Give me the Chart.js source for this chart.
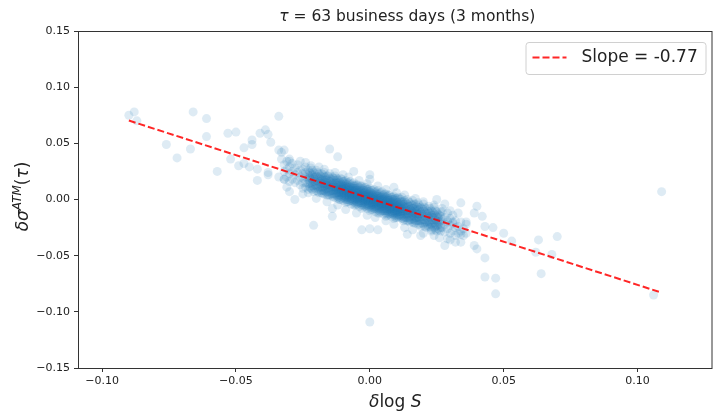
<!DOCTYPE html>
<html>
<head>
<meta charset="utf-8">
<script src="https://cdn.jsdelivr.net/npm/chart.js@4.4.0/dist/chart.umd.min.js"></script>
<style>
  html, body { margin: 0; padding: 0; background: #fff; }
</style>
</head>
<body>
<canvas id="chart" width="717" height="415"></canvas>
<script>
// values below are in units of 1e-3 (thousandths)
const MILLI = 0.001;

// scattered points away from the dense band: [dlogS, dsigma]
const outliers = [
  [-90, 75], [-88, 78], [-87, 70], [-76, 49], [-72, 37], [-67, 45], [-66, 78], [-61, 72],
  [-61, 56], [-57, 25], [-53, 59], [-52, 36], [-50, 60], [-49, 30], [-47, 46], [-47, 32],
  [-45, 29], [-44, 53], [-44, 49], [-42, 27], [-42, 17], [-41, 59], [-39, 62], [-38, 58],
  [-38, 24], [-38, 22], [-37, 51], [-34, 74], [-34, 44], [-34, 20], [-33, 42], [-33, 36],
  [-32, 44], [-32, 18], [-31, 11], [-30, 36], [-30, 34], [-30, 7], [-28, 0], [-24, 33],
  [-23, 6], [-21, -23], [-15, 45], [-14, -8], [-14, -15], [-12, 38], [-6, 25], [-3, -27],
  [0, 22], [0, 18], [0, -26], [0, -109], [3, -27], [9, 11], [14, -31], [19, -32],
  [23, -28], [24, -32], [25, 0], [28, -4], [28, -41], [29, -35], [29, -20], [31, -20],
  [32, -38], [33, -12], [34, -3], [34, -31], [34, -38], [36, -20], [39, -12], [39, -41],
  [40, -6], [40, -44], [42, -15], [43, -24], [43, -52], [43, -69], [46, -25], [47, -70],
  [47, -84], [50, -30], [53, -37], [62, -47], [63, -36], [64, -66], [68, -49], [70, -33],
  [106, -85], [109, 7]
];

// lighter points just above and below the band
const halo = [
  [-26, 34], [-22, 30], [-19, 29], [-17, 27], [-13, 24], [-10, 22], [-8, 20], [-4, 17],
  [-1, 14], [3, 12], [6, 9], [10, 6], [13, 4], [17, 1], [20, -2], [24, -5], [27, -8], [30, -10],
  [-25, 5], [-20, 1], [-16, -2], [-12, -5], [-9, -9], [-5, -12], [-1, -14], [2, -16],
  [6, -19], [9, -22], [13, -25], [16, -27], [20, -30], [26, -34], [30, -36]
];

// dense band: one x column per entry, with the y values seen in that column
const bandX = [
  -32, -31, -30, -29, -28, -27, -26, -25, -24, -23, -22, -21, -20, -19, -18, -17, -16, -15,
  -14, -13, -12, -11, -10, -9, -8, -7, -6, -5, -4, -3, -2, -1, 0, 1, 2, 3, 4, 5, 6, 7, 8, 9,
  10, 11, 12, 13, 14, 15, 16, 17, 18, 19, 20, 21, 22, 23, 24, 25, 26, 27, 28, 29, 30, 31, 32,
  33, 34, 35, 36
];
const bandY = [
  [25, 31, 18], [27, 20, 34], [23, 29, 16], [25, 18, 32], [22, 28, 15], [24, 17, 31], [20, 26, 13],
  [19, 23, 15, 27, 10], [20, 15, 24, 11, 29], [18, 22, 14, 26, 9], [19, 14, 23, 10, 28],
  [16, 20, 12, 24, 7], [17, 12, 21, 8, 26], [15, 19, 11, 23, 6],
  [14, 17, 11, 20, 8, 23, 6, 15], [14, 11, 17, 8, 20, 5, 24, 12], [12, 15, 9, 18, 6, 21, 4, 13],
  [13, 10, 16, 7, 19, 4, 23, 11], [11, 14, 8, 17, 5, 20, 3, 12], [11, 8, 14, 5, 17, 2, 21, 9],
  [9, 12, 6, 15, 3, 18, 1, 10], [9, 6, 12, 3, 15, 0, 19, 7],
  [8, 10, 6, 12, 4, 14, 2, 9, 7, 16, -1, 11], [8, 6, 10, 4, 12, 2, 14, 0, 7, 9, -3, 17],
  [4, 6, 8, 2, 10, 0, 12, 5, 7, 15, -2, 3], [5, 7, 3, 9, 1, 11, -1, 6, 4, 13, -4, 8],
  [6, 4, 8, 2, 10, 0, 12, -2, 5, 7, -5, 15], [2, 4, 6, 0, 8, -2, 10, 3, 5, 13, -4, 1],
  [3, 5, 1, 7, -1, 9, -3, 4, 2, 11, -6, 6], [3, 1, 5, -1, 7, -3, 9, -5, 2, 4, -8, 12],
  [0, 2, 4, -2, 6, -4, 8, 1, 3, 11, -6, -1], [1, 3, -1, 5, -3, 7, -5, 2, 0, 9, -8, 4],
  [1, -1, 3, -3, 5, -5, 7, -7, 0, 2, -10, 10], [-3, -1, 1, -5, 3, -7, 5, -2, 0, 8, -9, -4],
  [-2, 0, -4, 2, -6, 4, -8, -1, -3, 6, -11, 1], [-1, -3, 1, -5, 3, -7, 5, -9, -2, 0, -12, 8],
  [-5, -3, -1, -7, 1, -9, 3, -4, -2, 6, -11, -6], [-4, -2, -6, 0, -8, 2, -10, -3, -5, 4, -13, -1],
  [-4, -6, -2, -8, 0, -10, 2, -12, -5, -3, -15, 5], [-7, -5, -3, -9, -1, -11, 1, -6, -4, 4, -13, -8],
  [-6, -4, -8, -2, -10, 0, -12, -5, -7, 2, -15, -3], [-6, -8, -4, -10, -2, -12, 0, -14, -7, -5, -17, 3],
  [-10, -8, -6, -12, -4, -14, -2, -9, -7, 1, -16, -11],
  [-8, -5, -11, -2, -14, 1, -16, -7], [-8, -11, -5, -14, -2, -17, 2, -10],
  [-10, -7, -13, -4, -16, -1, -18, -9], [-10, -13, -7, -16, -4, -19, 0, -12],
  [-12, -9, -15, -6, -18, -3, -20, -11], [-11, -14, -8, -17, -5, -20, -1, -13],
  [-13, -10, -16, -7, -19, -4, -21, -12], [-13, -16, -10, -19, -7, -22, -3, -15],
  [-15, -11, -19, -7, -24], [-13, -18, -9, -22, -4], [-16, -12, -20, -8, -25],
  [-15, -20, -11, -24, -6], [-18, -14, -22, -10, -27], [-16, -21, -12, -25, -7],
  [-19, -15, -23, -11, -28],
  [-20, -14, -27], [-18, -25, -11], [-22, -16, -29], [-19, -26, -12], [-23, -17, -30],
  [-21, -28, -14], [-25, -19, -32],
  [-24, -30], [-28, -20], [-26, -32], [-30, -22]
];

// the same band seen between those columns (where it is darkest)
const bandX2 = [
  -22.5, -21.5, -20.5, -19.5, -18.5, -17.5, -16.5, -15.5, -14.5, -13.5, -12.5, -11.5, -10.5,
  -9.5, -8.5, -7.5, -6.5, -5.5, -4.5, -3.5, -2.5, -1.5, -0.5, 0.5, 1.5, 2.5, 3.5, 4.5, 5.5,
  6.5, 7.5, 8.5, 9.5, 10.5, 11.5, 12.5, 13.5, 14.5, 15.5, 16.5, 17.5, 18.5, 19.5, 20.5, 21.5,
  22.5, 23.5, 24.5, 25.5, 26.5
];
const bandY2 = [
  [17, 21, 14, 24, 11, 19], [18, 15, 22, 12, 26, 9], [16, 20, 13, 23, 10, 18], [16, 13, 20, 10, 24, 7],
  [14, 18, 11, 21, 8, 16], [14, 11, 18, 8, 22, 5], [13, 17, 10, 20, 7, 15], [13, 10, 17, 7, 21, 4],
  [11, 15, 8, 18, 5, 13], [11, 8, 15, 5, 19, 2],
  [11, 9, 13, 6, 15, 4, 17, 10, 8, 19], [9, 11, 6, 13, 4, 15, 2, 8, 17, 0],
  [7, 9, 5, 11, 3, 13, 10, 1, 18, 6], [8, 6, 10, 3, 12, 1, 14, 7, 5, 16],
  [7, 9, 4, 11, 2, 13, 0, 6, 15, -2], [5, 7, 3, 9, 1, 11, 8, -1, 16, 4],
  [6, 4, 8, 1, 10, -1, 12, 5, 3, 14], [4, 6, 1, 8, -1, 10, -3, 3, 12, -5],
  [2, 4, 0, 6, -2, 8, 5, -4, 13, 1], [4, 2, 6, -1, 8, -3, 10, 3, 1, 12],
  [2, 4, -1, 6, -3, 8, -5, 1, 10, -7], [0, 2, -2, 4, -4, 6, 3, -6, 11, -1],
  [1, -1, 3, -4, 5, -6, 7, 0, -2, 9], [0, 2, -3, 4, -5, 6, -7, -1, 8, -9],
  [-2, 0, -4, 2, -6, 4, 1, -8, 9, -3], [-1, -3, 1, -6, 3, -8, 5, -2, -4, 7],
  [-3, -1, -6, 1, -8, 3, -10, -4, 5, -12], [-4, -2, -6, 0, -8, 2, -1, -10, 7, -5],
  [-3, -5, -1, -8, 1, -10, 3, -4, -6, 5], [-5, -3, -8, -1, -10, 1, -12, -6, 3, -14],
  [-7, -5, -9, -3, -11, -1, -4, -13, 4, -8], [-6, -8, -4, -11, -2, -13, 0, -7, -9, 2],
  [-7, -5, -10, -3, -12, -1, -14, -8, 1, -16], [-9, -7, -11, -5, -13, -3, -6, -15, 2, -10],
  [-8, -10, -6, -13, -4, -15, -2, -9, -11, 0], [-10, -8, -13, -6, -15, -4, -17, -11, -2, -19],
  [-10, -6, -13, -3, -16, -8], [-10, -13, -6, -16, -2, -19], [-12, -8, -15, -5, -18, -10],
  [-12, -15, -8, -18, -4, -21], [-13, -9, -16, -6, -19, -11], [-13, -16, -9, -19, -5, -22],
  [-15, -11, -18, -8, -21, -13], [-15, -18, -11, -21, -7, -24], [-17, -13, -20, -10, -23, -15],
  [-16, -19, -12, -22, -8, -25], [-18, -14, -21, -11, -24, -16], [-18, -21, -14, -24, -10, -27],
  [-20, -16, -23, -13, -26, -18], [-19, -22, -15, -25, -11, -28]
];

// regression line
const SLOPE = -0.77;
const INTERCEPT = 0.001;
const fitX = [-0.090, 0.109];

// axes
const xTicks = [-0.10, -0.05, 0.00, 0.05, 0.10];
const yTicks = [-0.15, -0.10, -0.05, 0.00, 0.05, 0.10, 0.15];
const xRange = [-0.109, 0.128];
const yRange = [-0.15, 0.15];

const FONT = '"DejaVu Sans", sans-serif';
const TEXT = "#222";

// build scatter data
const scatterData = [];
outliers.concat(halo).forEach(([x, y]) => scatterData.push({ x: x * MILLI, y: y * MILLI }));
bandX.forEach((x, i) => {
  bandY[i].forEach((y) => scatterData.push({ x: x * MILLI, y: y * MILLI }));
});
bandX2.forEach((x, i) => {
  bandY2[i].forEach((y) => scatterData.push({ x: x * MILLI, y: y * MILLI }));
});

const fitData = fitX.map((x) => ({ x: x, y: SLOPE * x + INTERCEPT }));

const fmt = (v) => (v < 0 ? "\u2212" : "") + Math.abs(v).toFixed(2);

// draws a list of text runs centred on (cx, cy)
function drawRuns(ctx, runs, cx, cy) {
  let w = 0;
  runs.forEach((r) => {
    ctx.font = r.font;
    w += ctx.measureText(r.t).width;
  });
  let x = cx - w / 2;
  ctx.textAlign = "left";
  ctx.textBaseline = "middle";
  runs.forEach((r) => {
    ctx.font = r.font;
    ctx.fillText(r.t, x, cy + (r.dy || 0));
    x += ctx.measureText(r.t).width;
  });
}

const decorations = {
  id: "decorations",
  afterDraw(chart) {
    const { ctx, chartArea: a } = chart;
    const mid = (a.left + a.right) / 2;
    ctx.save();

    // frame
    ctx.strokeStyle = "#333";
    ctx.lineWidth = 1;
    ctx.strokeRect(a.left + 0.5, a.top + 0.5, a.right - a.left - 1, a.bottom - a.top);

    ctx.fillStyle = TEXT;
    // title
    drawRuns(ctx, [
      { t: "\u03c4", font: "italic 15.5px " + FONT },
      { t: " = 63 business days (3 months)", font: "15.5px " + FONT }
    ], mid + 12, 17);

    // x title
    drawRuns(ctx, [
      { t: "\u03b4", font: "italic 17px " + FONT },
      { t: "log ", font: "17px " + FONT },
      { t: "S", font: "italic 17px " + FONT }
    ], mid, 403);

    // y title
    ctx.save();
    ctx.translate(24, (a.top + a.bottom) / 2 - 3);
    ctx.rotate(-Math.PI / 2);
    drawRuns(ctx, [
      { t: "\u03b4\u03c3", font: "italic 17px " + FONT },
      { t: "ATM", font: "italic 12px " + FONT, dy: -6 },
      { t: "(", font: "17px " + FONT },
      { t: "\u03c4", font: "italic 17px " + FONT },
      { t: ")", font: "17px " + FONT }
    ], 0, 0);
    ctx.restore();

    // legend
    const bx = a.right - 187, by = a.top + 11, bw = 180, bh = 32;
    ctx.beginPath();
    ctx.roundRect(bx + 0.5, by + 0.5, bw, bh, 3);
    ctx.fillStyle = "rgba(255,255,255,0.8)";
    ctx.fill();
    ctx.strokeStyle = "#d0d0d0";
    ctx.stroke();
    ctx.beginPath();
    ctx.setLineDash([7, 3]);
    ctx.strokeStyle = "rgba(255,0,0,0.85)";
    ctx.lineWidth = 2;
    ctx.moveTo(bx + 7, by + 15.5);
    ctx.lineTo(bx + 41, by + 15.5);
    ctx.stroke();
    ctx.setLineDash([]);
    ctx.fillStyle = TEXT;
    ctx.font = "17px " + FONT;
    ctx.textAlign = "left";
    ctx.textBaseline = "middle";
    ctx.fillText("Slope = " + SLOPE.toFixed(2), bx + 56, by + 16);

    ctx.restore();
  }
};

const ctx = document.getElementById("chart").getContext("2d");
new Chart(ctx, {
  type: "scatter",
  data: {
    datasets: [
      {
        type: "line",
        label: "Slope = " + SLOPE.toFixed(2),
        data: fitData,
        borderColor: "rgba(255,0,0,0.85)",
        borderWidth: 2,
        borderDash: [7, 3],
        pointRadius: 0,
        fill: false,
        order: 0,
      },
      {
        label: "data",
        data: scatterData,
        backgroundColor: "rgba(31,119,180,0.15)",
        borderWidth: 0,
        pointRadius: 4.5,
        pointHoverRadius: 4.5,
        order: 1,
      },
    ],
  },
  options: {
    responsive: false,
    devicePixelRatio: 1,
    animation: false,
    layout: { padding: { top: 31, right: 1, left: 0, bottom: 0 } },
    plugins: {
      legend: { display: false },
      tooltip: { enabled: false },
      title: { display: false },
    },
    scales: {
      x: {
        type: "linear",
        min: xRange[0],
        max: xRange[1],
        afterBuildTicks: (s) => { s.ticks = xTicks.map((v) => ({ value: v })); },
        afterFit: (s) => { s.height = 47; },
        border: { display: false },
        grid: { display: true, drawOnChartArea: false, drawTicks: true, tickLength: 4, tickColor: "#333" },
        ticks: { color: TEXT, font: { family: FONT, size: 11 }, padding: 3, callback: fmt, maxRotation: 0 },
      },
      y: {
        type: "linear",
        min: yRange[0],
        max: yRange[1],
        afterBuildTicks: (s) => { s.ticks = yTicks.map((v) => ({ value: v })); },
        afterFit: (s) => { s.width = 78; },
        border: { display: false },
        grid: { display: true, drawOnChartArea: false, drawTicks: true, tickLength: 4, tickColor: "#333" },
        ticks: { color: TEXT, font: { family: FONT, size: 11 }, padding: 4, callback: fmt },
      },
    },
  },
  plugins: [decorations],
});
</script>
</body>
</html>
